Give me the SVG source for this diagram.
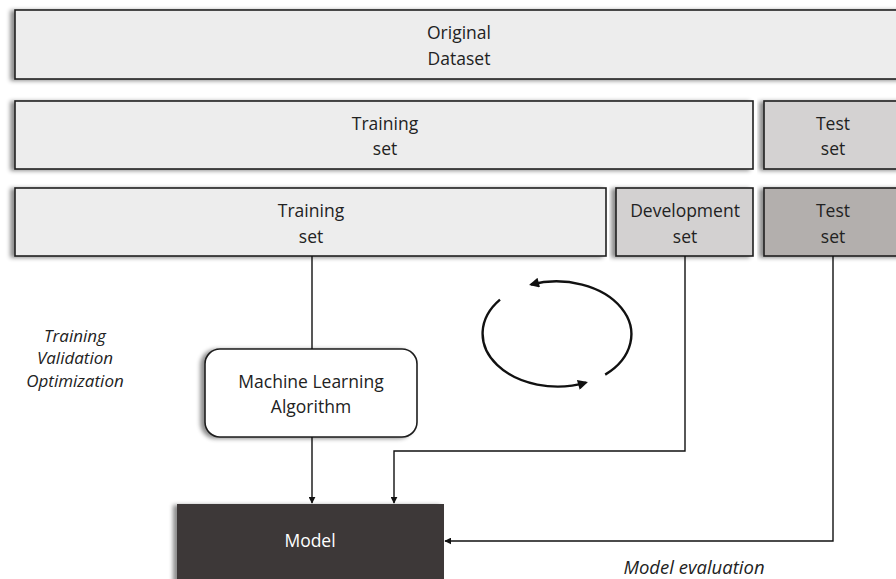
<svg xmlns="http://www.w3.org/2000/svg" width="896" height="579" viewBox="0 0 896 579">
<defs>
<filter id="sh" x="-5%" y="-20%" width="110%" height="140%">
<feDropShadow dx="-4" dy="1" stdDeviation="2.2" flood-color="#000" flood-opacity="0.45"/>
</filter>
<marker id="ah" viewBox="0 0 10 10" refX="9" refY="5" markerWidth="7" markerHeight="7" markerUnits="userSpaceOnUse" orient="auto">
<path d="M0,0 L10,5 L0,10 z" fill="#111"/>
</marker>
<marker id="ah2" viewBox="0 0 10 10" refX="8" refY="5" markerWidth="12" markerHeight="10" markerUnits="userSpaceOnUse" orient="auto">
<path d="M0,0 L10,5 L0,10 z" fill="#111"/>
</marker>
</defs>
<style>
.box{stroke:#1e1e1e;stroke-width:1.6;filter:url(#sh)}
.t{font-family:"Open Sans","Liberation Sans",sans-serif;font-size:17.5px;fill:#222;text-anchor:middle}
.it{font-family:"Open Sans","Liberation Sans",sans-serif;font-size:17px;font-style:italic;fill:#222;text-anchor:middle}
.ln{fill:none;stroke:#111;stroke-width:1.4}
</style>
<rect width="896" height="579" fill="#fff"/>
<g id="original">
<rect class="box" x="15" y="10" width="890" height="69" fill="#ededed"/>
<text class="t" x="459" y="39">Original</text>
<text class="t" x="459" y="65">Dataset</text>
</g>
<g id="train1">
<rect class="box" x="15" y="101" width="738" height="68" fill="#ededed"/>
<text class="t" x="385" y="130">Training</text>
<text class="t" x="385" y="155">set</text>
</g>
<g id="test1">
<rect class="box" x="764" y="101" width="140" height="68" fill="#d4d2d2"/>
<text class="t" x="833" y="130">Test</text>
<text class="t" x="833" y="155">set</text>
</g>
<g id="train2">
<rect class="box" x="15" y="188" width="591" height="68" fill="#ededed"/>
<text class="t" x="311" y="217">Training</text>
<text class="t" x="311" y="243">set</text>
</g>
<g id="dev">
<rect class="box" x="616" y="188" width="137" height="68" fill="#d3d1d1"/>
<text class="t" x="685" y="217">Development</text>
<text class="t" x="685" y="243">set</text>
</g>
<g id="test2">
<rect class="box" x="764" y="188" width="140" height="68" fill="#b3afad"/>
<text class="t" x="833" y="217">Test</text>
<text class="t" x="833" y="243">set</text>
</g>
<g id="ml">
<rect class="box" x="205" y="349" width="212" height="88" rx="15" ry="15" fill="#fff"/>
<text class="t" x="311" y="388">Machine Learning</text>
<text class="t" x="311" y="413">Algorithm</text>
</g>
<g id="model">
<rect x="177" y="504" width="267" height="80" fill="#3d3837" style="filter:url(#sh)"/>
<text class="t" x="310" y="547" style="fill:#fff">Model</text>
</g>
<g id="connectors">
<path class="ln" d="M312,256 V349"/>
<path class="ln" d="M312,437 V503" marker-end="url(#ah)"/>
<path class="ln" d="M685,256 V451 H394 V503" marker-end="url(#ah)"/>
<path class="ln" d="M833,256 V541 H445" marker-end="url(#ah)"/>
<path fill="none" stroke="#111" stroke-width="2.4" d="M605.2,374.6 A75,53 0 0 0 531,284.5" marker-end="url(#ah2)"/>
<path fill="none" stroke="#111" stroke-width="2.4" d="M500,299.6 A75,53 0 0 0 586,382.6" marker-end="url(#ah2)"/>
</g>
<g id="labels">
<text class="it" x="75" y="342">Training</text>
<text class="it" x="75" y="364">Validation</text>
<text class="it" x="75" y="387">Optimization</text>
<text class="it" x="694" y="574" style="font-size:18.5px">Model evaluation</text>
</g>
</svg>
